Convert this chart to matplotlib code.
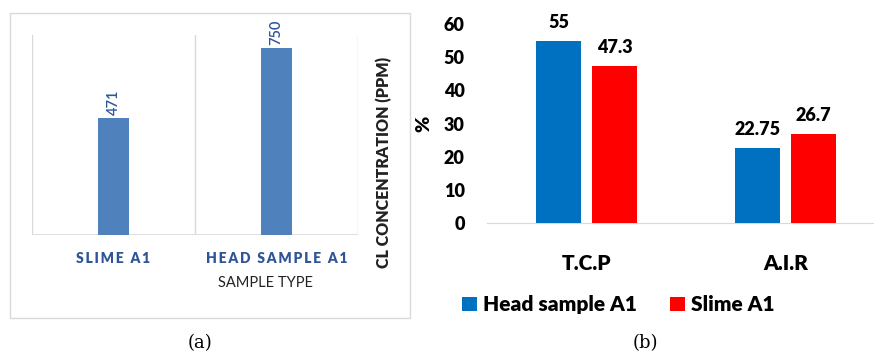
import matplotlib
matplotlib.use("Agg")
import matplotlib.pyplot as plt
from matplotlib.patches import Rectangle
import numpy as np

plt.rcParams["font.family"] = ["Lato", "DejaVu Sans"]

# (a) chloride concentration by sample type
cl_types = ["SLIME A1", "HEAD SAMPLE A1"]
cl_ppm = [471, 750]

# (b) T.C.P / A.I.R percentages per sample
groups = ["T.C.P", "A.I.R"]
head_pct = [55, 22.75]
slime_pct = [47.3, 26.7]
head_lbl = ["55", "22.75"]
slime_lbl = ["47.3", "26.7"]
pct_ticks = [0, 10, 20, 30, 40, 50, 60]

W, H = 874, 355
fig = plt.figure(figsize=(W / 100, H / 100), dpi=100)
BOLD = "heavy"


def px_axes(x0, y0, x1, y1):
    """Axes from pixel box (top-left origin)."""
    return fig.add_axes([x0 / W, 1 - y1 / H, (x1 - x0) / W, (y1 - y0) / H])


def spaced(s):
    return "\u2009".join(s)


# ---- panel (a) ------------------------------------------------------------
fig.patches.append(Rectangle((10 / W, 1 - 318 / H), 400 / W, 305 / H,
                             transform=fig.transFigure, fill=False,
                             edgecolor="#d9d9d9", linewidth=1.0))

axa = px_axes(32, 35, 358, 235)
xa = np.arange(len(cl_types))
axa.bar(xa, cl_ppm, width=0.185, color="#4f81bd", zorder=3)
axa.set_xlim(-0.5, 1.5)
axa.set_ylim(0, 802)
for x in [-0.5, 0.5, 1.5]:
    axa.axvline(x, color="#d9d9d9", linewidth=1.0, zorder=1)
axa.axhline(0, color="#d9d9d9", linewidth=1.2, zorder=2)
for s in axa.spines.values():
    s.set_visible(False)
axa.set_yticks([])
axa.set_xticks(xa)
axa.set_xticklabels([spaced(t) for t in cl_types], fontsize=10,
                    fontweight=BOLD, color="#2f5597")
axa.tick_params(axis="x", length=0, pad=12)
for x, v in zip(xa, cl_ppm):
    axa.text(x, v + 12, str(v), rotation=90, ha="center", va="bottom",
             fontsize=10.5, fontweight="semibold", color="#2f5597")
fig.text(265 / W, 1 - 283 / H, "SAMPLE TYPE", ha="center", va="center",
         fontsize=10.5, color="#222222")
fig.text(384 / W, 1 - 162 / H, "CL CONCENTRATION (PPM)", rotation=90,
         ha="center", va="center", fontsize=11.5, fontweight=BOLD,
         color="#222222")

# ---- panel (b) ------------------------------------------------------------
axb = px_axes(487, 24, 885, 223)
xb = np.arange(len(groups))
bw = 0.226
off = 0.141
axb.bar(xb - off, head_pct, width=bw, color="#0070c0", zorder=3,
        label="Head sample A1")
axb.bar(xb + off, slime_pct, width=bw, color="#ff0000", zorder=3,
        label="Slime A1")
for x, v, t in zip(xb - off, head_pct, head_lbl):
    axb.text(x, v + 3, t, ha="center", va="bottom", fontsize=13,
             fontweight=BOLD)
for x, v, t in zip(xb + off, slime_pct, slime_lbl):
    axb.text(x, v + 3, t, ha="center", va="bottom", fontsize=13,
             fontweight=BOLD)
axb.set_xlim(-0.5, 1.5)
axb.set_ylim(0, 60)
axb.set_yticks(pct_ticks)
axb.set_yticklabels([str(t) for t in pct_ticks], fontsize=13,
                    fontweight=BOLD)
axb.set_xticks(xb)
axb.set_xticklabels(groups, fontsize=15, fontweight=BOLD)
axb.tick_params(axis="both", length=0)
axb.tick_params(axis="y", pad=16)
axb.tick_params(axis="x", pad=22)
for k in ["top", "right", "left"]:
    axb.spines[k].set_visible(False)
axb.spines["bottom"].set_color("#d9d9d9")
axb.set_ylabel("%", fontsize=14, fontweight=BOLD, labelpad=8)
axb.legend(loc="center", bbox_to_anchor=(0.33, -0.41), ncol=2, frameon=False,
           prop={"size": 15, "weight": BOLD}, handlelength=0.7,
           handleheight=0.7, handletextpad=0.3, columnspacing=1.6)

# ---- captions ------------------------------------------------------------
for x, t in [(200, "(a)"), (645, "(b)")]:
    fig.text(x / W, 1 - 343 / H, t, ha="center", va="center", fontsize=13,
             family=["DejaVu Serif"])

fig.savefig("out.png", dpi=100)
